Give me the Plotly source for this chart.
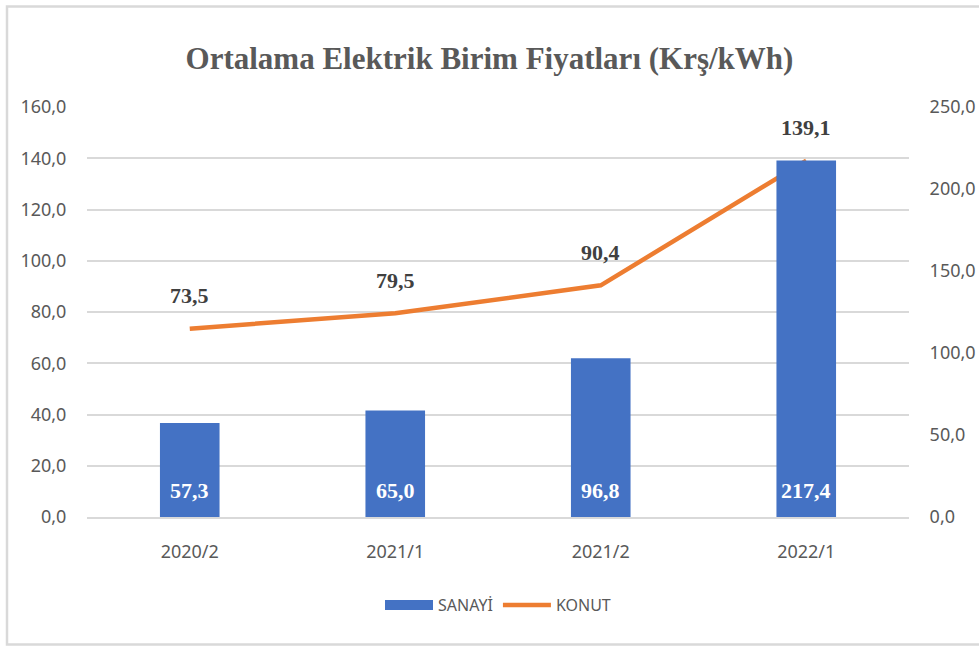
import plotly.graph_objects as go

categories = ["2020/2", "2021/1", "2021/2", "2022/1"]
sanayi = [57.3, 65.0, 96.8, 217.4]
konut = [73.5, 79.5, 90.4, 139.1]
left_ticks = [0, 20, 40, 60, 80, 100, 120, 140, 160]
right_ticks = [0, 50, 100, 150, 200, 250]

BLUE = "#4472C4"
ORANGE = "#ED7D31"

def tr(v):
    return f"{v:.1f}".replace(".", ",")

fig = go.Figure()
fig.add_trace(go.Bar(
    x=categories, y=sanayi, name="SANAYİ", yaxis="y2",
    marker=dict(color=BLUE, line=dict(width=0)),
    width=0.29, showlegend=False,
))
# legend proxy (wide rectangle look)
fig.add_trace(go.Scatter(
    x=[None], y=[None], name="SANAYİ", mode="lines",
    line=dict(color=BLUE, width=15), yaxis="y2",
))
fig.add_trace(go.Scatter(
    x=categories, y=konut, name="KONUT", yaxis="y",
    mode="lines", line=dict(color=ORANGE, width=4.5),
))

annotations = []
for c, v in zip(categories, konut):
    annotations.append(dict(x=c, y=v, xref="x", yref="y", text=f"<b>{tr(v)}</b>",
                            showarrow=False, yshift=33,
                            font=dict(family="Liberation Serif", size=22, color="#404040")))
for c, v in zip(categories, sanayi):
    annotations.append(dict(x=c, y=0, xref="x", yref="y2", text=f"<b>{tr(v)}</b>",
                            showarrow=False, yshift=27,
                            font=dict(family="Liberation Serif", size=22, color="#FFFFFF")))

tickfont = dict(family="Noto Sans", size=18, color="#595959")

W, H = 979, 646
ml, mr, mt, mb = 87, 70, 107, 129
pw, ph = W - ml - mr, H - mt - mb

def px_x(px):
    return (px - ml) / pw

def px_y(py):
    return (H - mb - py) / ph

fig.update_layout(
    width=W, height=H,
    margin=dict(l=ml, r=mr, t=mt, b=mb, autoexpand=False),
    paper_bgcolor="white", plot_bgcolor="white",
    title=dict(text="<b>Ortalama Elektrik Birim Fiyatları (Krş/kWh)</b>",
               x=0.5, xanchor="center", y=1 - 58 / H, yanchor="middle",
               font=dict(family="Liberation Serif", size=31, color="#595959")),
    xaxis=dict(tickfont=tickfont, showgrid=False, showline=True, linecolor="#d9d9d9",
               linewidth=1.5, ticks="outside", ticklen=18, tickcolor="rgba(0,0,0,0)",
               automargin=False),
    yaxis=dict(range=[0, 160], tickvals=left_ticks, ticktext=[tr(v) for v in left_ticks],
               tickfont=tickfont, showgrid=True, gridcolor="#d9d9d9", gridwidth=1.5,
               zeroline=False, ticks="outside", ticklen=16, tickcolor="rgba(0,0,0,0)",
               automargin=False),
    yaxis2=dict(range=[0, 250], tickvals=right_ticks, ticktext=[tr(v) for v in right_ticks],
                overlaying="y", side="right", showgrid=False, zeroline=False,
                tickfont=tickfont, ticks="outside", ticklen=16, tickcolor="rgba(0,0,0,0)",
                automargin=False),
    legend=dict(orientation="h", x=0.5, xanchor="center", y=px_y(605), yanchor="middle",
                itemwidth=48,
                font=dict(family="Noto Sans", size=16, color="#595959")),
    annotations=annotations,
    shapes=[dict(type="rect", xref="paper", yref="paper",
                 x0=px_x(7), x1=px_x(990), y0=px_y(644.5), y1=px_y(6.5),
                 line=dict(color="#d9d9d9", width=2.5), layer="below")],
)

fig.write_html("out.html", config={"displayModeBar": False},
               post_script="document.body.style.margin='0';document.body.style.overflow='hidden';")
